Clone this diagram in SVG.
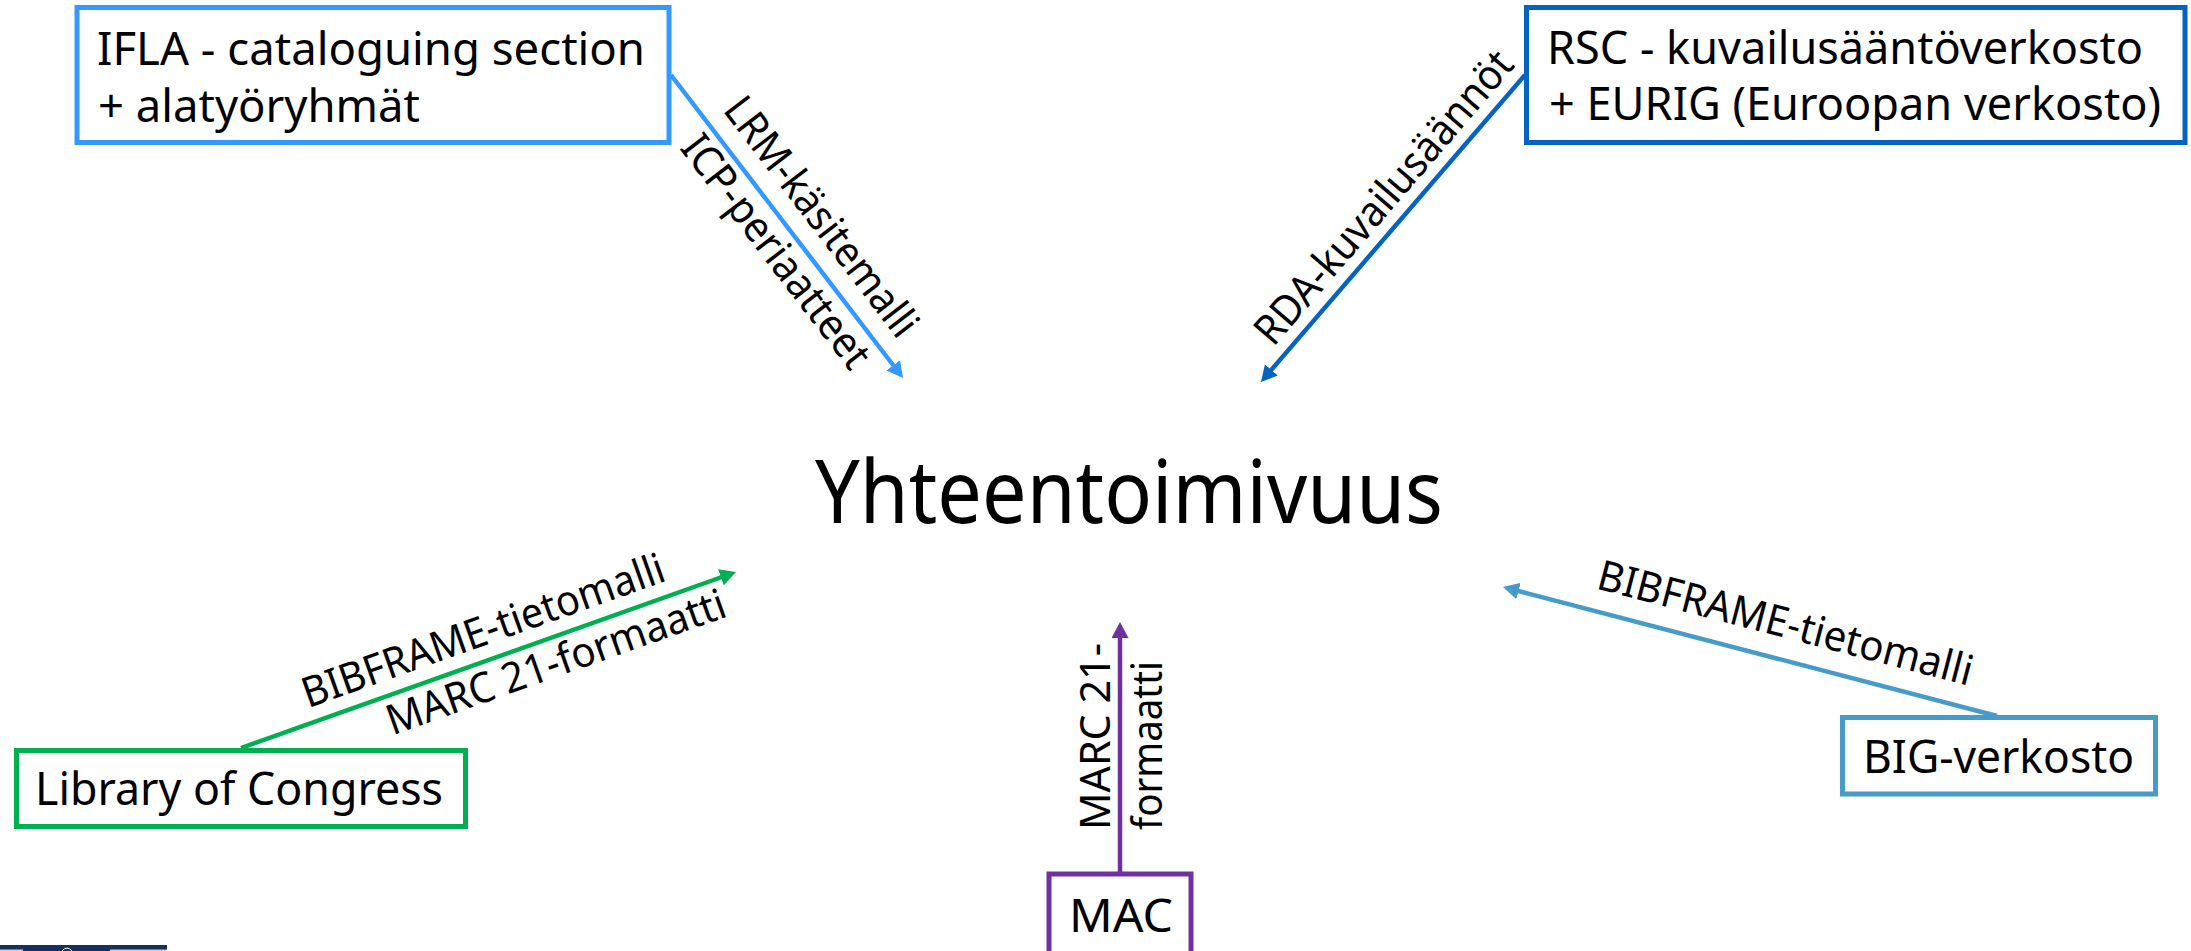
<svg xmlns="http://www.w3.org/2000/svg" width="2191" height="951" viewBox="0 0 2191 951">
  <style>
    .box { fill: #ffffff; stroke-width: 5; }
    .t { font-family: "Noto Sans", "Open Sans", "Liberation Sans", sans-serif; fill: #000000; }
    .bt { font-size: 46px; }
    .lt { font-size: 42px; }
    .con { fill: none; stroke-width: 4.5; }
  </style>
  <defs>
    <marker id="ah-ifla" markerUnits="userSpaceOnUse" viewBox="0 0 16 17" markerWidth="16" markerHeight="17" refX="4" refY="8.5" orient="auto"><path d="M0,0 L16,8.5 L0,17 Z" fill="#3399FF"/></marker>
    <marker id="ah-rsc" markerUnits="userSpaceOnUse" viewBox="0 0 16 17" markerWidth="16" markerHeight="17" refX="4" refY="8.5" orient="auto"><path d="M0,0 L16,8.5 L0,17 Z" fill="#0563C1"/></marker>
    <marker id="ah-loc" markerUnits="userSpaceOnUse" viewBox="0 0 16 17" markerWidth="16" markerHeight="17" refX="4" refY="8.5" orient="auto"><path d="M0,0 L16,8.5 L0,17 Z" fill="#00B050"/></marker>
    <marker id="ah-mac" markerUnits="userSpaceOnUse" viewBox="0 0 16 17" markerWidth="16" markerHeight="17" refX="4" refY="8.5" orient="auto"><path d="M0,0 L16,8.5 L0,17 Z" fill="#7030A0"/></marker>
    <marker id="ah-big" markerUnits="userSpaceOnUse" viewBox="0 0 16 17" markerWidth="16" markerHeight="17" refX="4" refY="8.5" orient="auto"><path d="M0,0 L16,8.5 L0,17 Z" fill="#469BC8"/></marker>
  </defs>

  <rect x="0" y="0" width="2191" height="951" fill="#ffffff"/>

  <g id="connectors">
    <line class="con" x1="671" y1="75" x2="895.7" y2="368.5" stroke="#3399FF" marker-end="url(#ah-ifla)"/>
    <line class="con" x1="1525" y1="75" x2="1268.8" y2="372.9" stroke="#0563C1" marker-end="url(#ah-rsc)"/>
    <line class="con" x1="241" y1="748" x2="724.7" y2="576" stroke="#00B050" marker-end="url(#ah-loc)"/>
    <line class="con" x1="1120" y1="874" x2="1120" y2="634" stroke="#7030A0" marker-end="url(#ah-mac)"/>
    <line class="con" x1="1997" y1="716" x2="1514.6" y2="590" stroke="#469BC8" marker-end="url(#ah-big)"/>

    <g id="label-ifla" transform="translate(795,237) rotate(52.56)">
      <text class="t lt" x="0" y="-19" text-anchor="middle" textLength="290" lengthAdjust="spacingAndGlyphs">LRM-käsitemalli</text>
      <text class="t lt" x="0" y="38" text-anchor="middle" textLength="282" lengthAdjust="spacingAndGlyphs">ICP-periaatteet</text>
    </g>
    <g id="label-rsc" transform="translate(1404.4,215.2) rotate(-49.3)">
      <text class="t lt" x="0" y="-13" text-anchor="middle" textLength="372" lengthAdjust="spacingAndGlyphs">RDA-kuvailusäännöt</text>
    </g>
    <g id="label-loc" transform="translate(493,658.4) rotate(-19.57)">
      <text class="t lt" x="0" y="-15" text-anchor="middle" textLength="382" lengthAdjust="spacingAndGlyphs">BIBFRAME-tietomalli</text>
      <text class="t lt" x="58" y="39" text-anchor="middle" textLength="357" lengthAdjust="spacingAndGlyphs">MARC 21-formaatti</text>
    </g>
    <g id="label-mac" transform="translate(1120,830) rotate(-90)">
      <text class="t lt" x="0" y="-10" textLength="187" lengthAdjust="spacingAndGlyphs">MARC 21-</text>
      <text class="t lt" x="0" y="42" textLength="169" lengthAdjust="spacingAndGlyphs">formaatti</text>
    </g>
    <g id="label-big" transform="translate(1776.1,658.3) rotate(14.63)">
      <text class="t lt" x="0" y="-22" text-anchor="middle" textLength="386" lengthAdjust="spacingAndGlyphs">BIBFRAME-tietomalli</text>
    </g>
  </g>

  <g id="node-ifla">
    <rect class="box" x="77" y="7.5" width="592" height="135" stroke="#3399FF"/>
    <text class="t bt" x="97" y="65" textLength="548" lengthAdjust="spacingAndGlyphs">IFLA - cataloguing section</text>
    <text class="t bt" x="98" y="121.5" textLength="322" lengthAdjust="spacingAndGlyphs">+ alatyöryhmät</text>
  </g>

  <g id="node-rsc">
    <rect class="box" x="1526.5" y="7.5" width="658.5" height="135" stroke="#0563C1"/>
    <text class="t bt" x="1547" y="63.5" textLength="596" lengthAdjust="spacingAndGlyphs">RSC - kuvailusääntöverkosto</text>
    <text class="t bt" x="1549" y="120" textLength="612" lengthAdjust="spacingAndGlyphs">+ EURIG (Euroopan verkosto)</text>
  </g>

  <g id="node-loc">
    <rect class="box" x="16.5" y="750.5" width="449" height="76" stroke="#00B050"/>
    <text class="t bt" x="35" y="805" textLength="408" lengthAdjust="spacingAndGlyphs">Library of Congress</text>
  </g>

  <g id="node-mac">
    <rect class="box" x="1049" y="874" width="142" height="100" stroke="#7030A0"/>
    <text class="t bt" x="1069" y="932" textLength="104" lengthAdjust="spacingAndGlyphs">MAC</text>
  </g>

  <g id="node-big">
    <rect class="box" x="1842.5" y="717.5" width="313" height="76.5" stroke="#469BC8"/>
    <text class="t bt" x="1863" y="773" textLength="271" lengthAdjust="spacingAndGlyphs">BIG-verkosto</text>
  </g>

  <g id="node-center">
    <text class="t" x="815" y="523" font-size="88" textLength="628" lengthAdjust="spacingAndGlyphs">Yhteentoimivuus</text>
  </g>

  <g id="logo">
    <rect x="0" y="945" width="167" height="6" fill="#13305E"/>
    <rect x="0" y="949.5" width="23" height="1.5" fill="#C8CCD6"/>
    <rect x="110" y="949.5" width="57" height="1.5" fill="#C8CCD6"/>
    <path d="M62,951 Q67,945 72,951" fill="none" stroke="#ffffff" stroke-width="1"/>
  </g>
</svg>
